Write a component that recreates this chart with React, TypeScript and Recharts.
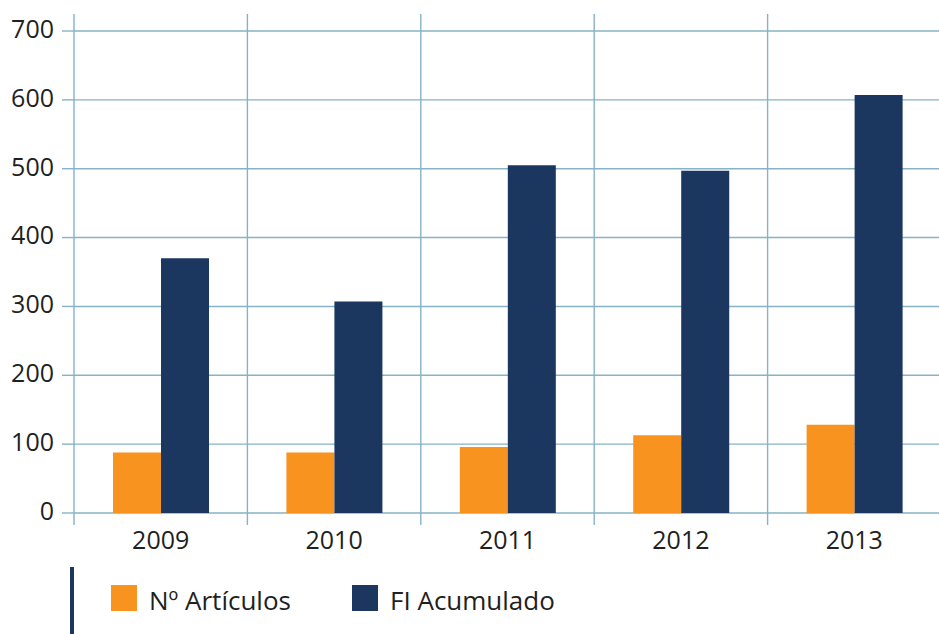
import React from 'react';
import { BarChart, Bar, XAxis, YAxis, CartesianGrid, Legend } from 'recharts';

const years = ['2009', '2010', '2011', '2012', '2013'];
const articulos = [88, 88, 96, 113, 128];
const fiAcumulado = [370, 307, 505, 497, 607];
const yTicks = [0, 100, 200, 300, 400, 500, 600, 700];

const data = years.map((y, i) => ({ year: y, articulos: articulos[i], fi: fiAcumulado[i] }));

const FONT = '"Open Sans", "Noto Sans", sans-serif';
const GRID = '#86b3c6';
const ORANGE = '#f7931e';
const NAVY = '#1b365f';
const TEXT = '#231f20';

const VLine = (props: any) => {
  const { x1, x2, y1, y2 } = props;
  return <line x1={x1} x2={x2} y1={y1 - 17} y2={y2 + 12} stroke={GRID} strokeWidth={1.4} />;
};

const YTick = (props: any) => {
  const { x, y, payload } = props;
  return (
    <text x={x} y={y - 2} dy="0.355em" textAnchor="end" fill={TEXT} fontSize={25} fontFamily={FONT}>
      {payload.value}
    </text>
  );
};

const LegendContent = () => (
  <div style={{ position: 'relative', height: 67, width: 939, fontFamily: FONT }}>
    <div style={{ position: 'absolute', left: 70, top: 0, width: 4, height: 67, background: NAVY }} />
    <div style={{ position: 'absolute', left: 111, top: 18, width: 26, height: 26, background: ORANGE }} />
    <div style={{ position: 'absolute', left: 149, top: 15, fontSize: 26, color: TEXT, lineHeight: '36px', whiteSpace: 'nowrap' }}>Nº Artículos</div>
    <div style={{ position: 'absolute', left: 352, top: 18, width: 26, height: 26, background: NAVY }} />
    <div style={{ position: 'absolute', left: 390, top: 15, fontSize: 26, color: TEXT, lineHeight: '36px', whiteSpace: 'nowrap' }}>FI Acumulado</div>
  </div>
);

export default function App() {
  return (
    <div style={{ position: 'absolute', left: 0, top: 0, background: '#fff' }}>
      <BarChart
        width={939}
        height={634}
        data={data}
        margin={{ top: 31, right: -2, left: 0, bottom: 0 }}
        barCategoryGap="22.5%"
        barGap={0}
      >
        <CartesianGrid
          stroke={GRID}
          strokeWidth={1.4}
          vertical={(p: any) => <VLine {...p} />}
          verticalCoordinatesGenerator={({ offset }: any) =>
            [0, 1, 2, 3, 4, 5].map((i) => offset.left + (i * offset.width) / 5)
          }
        />
        <XAxis
          dataKey="year"
          axisLine={false}
          tickLine={false}
          tickSize={0}
          tickMargin={18}
          height={54}
          tick={{ fill: TEXT, fontSize: 25, fontFamily: FONT }}
        />
        <YAxis
          domain={[0, 700]}
          ticks={yTicks}
          width={74}
          axisLine={false}
          tickLine={{ stroke: GRID, strokeWidth: 1.4 }}
          tickSize={12}
          tickMargin={8}
          tick={<YTick />}
          interval={0}
        />
        <Legend verticalAlign="bottom" height={67} content={<LegendContent />} wrapperStyle={{ left: 0, bottom: 0, width: 939 }} />
        <Bar dataKey="articulos" name="Nº Artículos" fill={ORANGE} isAnimationActive={false} />
        <Bar dataKey="fi" name="FI Acumulado" fill={NAVY} isAnimationActive={false} />
      </BarChart>
    </div>
  );
}
